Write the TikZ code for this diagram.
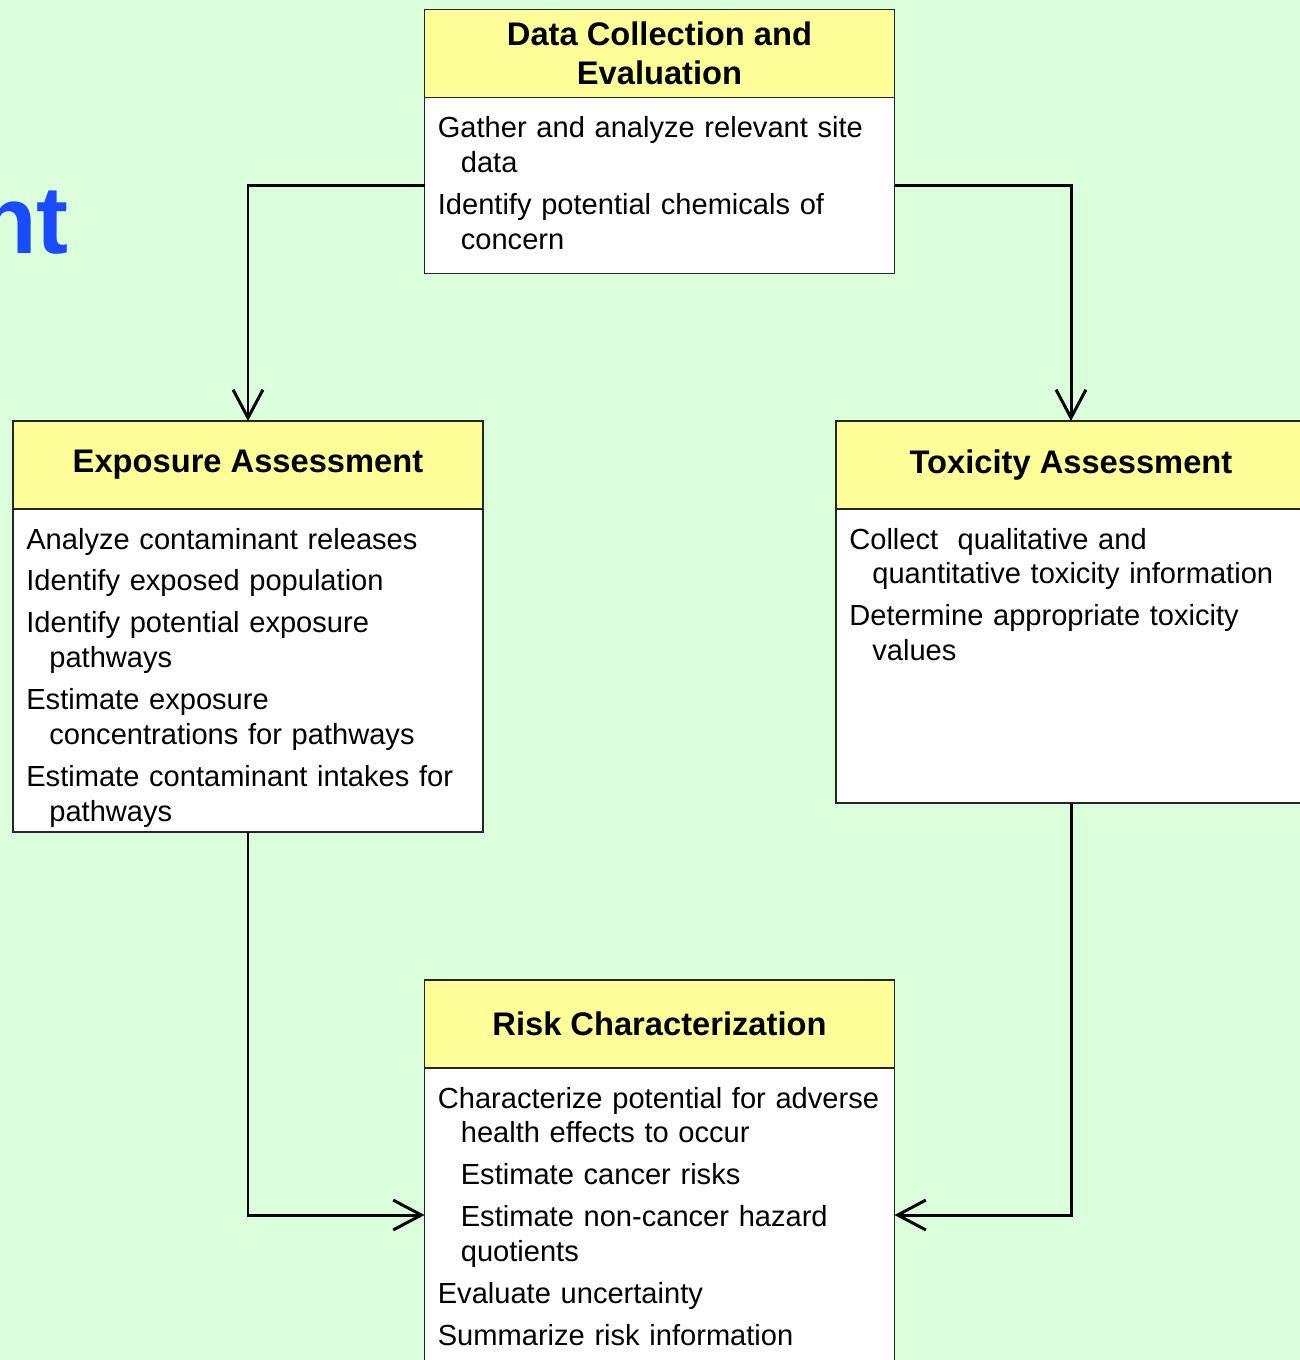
\documentclass[tikz,border=0pt]{standalone}
\usepackage{fontspec}
\setmainfont{Liberation Sans}
\usetikzlibrary{arrows.meta, positioning}

\definecolor{pagegreen}{HTML}{DBFFDB}
\definecolor{headyellow}{HTML}{FFFF99}
\definecolor{titleblue}{HTML}{1A4BFF}

\newlength{\unitpx}
\setlength{\unitpx}{0.02cm}
\newcommand{\entry}[1]{\hangindent=23\unitpx\hangafter=1 #1\par}
\newcommand{\subentry}[1]{{\leftskip=23\unitpx #1\par}}

\tikzset{
  headbox/.style={draw=black!85, line width=0.9pt, fill=headyellow,
    minimum width=470*\unitpx, minimum height=88*\unitpx, inner sep=0pt,
    outer sep=0pt, align=center, font=\fontsize{18.6}{22.2}\selectfont\bfseries},
  bodybox/.style={draw=black!85, line width=0.9pt, fill=white,
    minimum width=470*\unitpx, inner sep=0pt, outer sep=0pt, below=0pt of #1},
  bodytext/.style={anchor=base west, inner sep=0pt, text width=560*\unitpx,
    align=left, font=\fontsize{16.55}{19.9}\selectfont,
    execute at begin node={\setlength{\parskip}{7\unitpx}\setlength{\parindent}{0pt}}},
  link/.style={line width=1.7pt, -{Straight Barb[length=16pt, width=17pt]}}
}

\begin{document}
\begin{tikzpicture}[x=0.02cm, y=-0.02cm]
\useasboundingbox (0,0) rectangle (1300,1360);
\clip (0,0) rectangle (1300,1360);
\fill[pagegreen] (0,0) rectangle (1300,1360);

% title, cut at the page edge
\node[anchor=base east, inner sep=0pt, text=titleblue,
  font=\fontsize{54.6}{60}\selectfont\bfseries] (ttl) at (69,253) {nt};

% data collection
\node[headbox] (dataH) at (659.5,53.5) {Data Collection and\\Evaluation};
\node[bodybox=dataH, minimum height=176*\unitpx] (dataB) {};
\node[bodytext] (dataT) at ([xshift=13*\unitpx, yshift=-40*\unitpx]dataB.north west) {
  \entry{Gather and analyze relevant site\newline data}
  \entry{Identify potential chemicals of\newline concern}};

% exposure
\node[headbox] (expH) at (248,465) {Exposure Assessment};
\node[bodybox=expH, minimum height=323*\unitpx] (expB) {};
\node[bodytext] (expT) at ([xshift=13*\unitpx, yshift=-40*\unitpx]expB.north west) {
  \entry{Analyze contaminant releases}
  \entry{Identify exposed population}
  \entry{Identify potential exposure\newline pathways}
  \entry{Estimate exposure\newline concentrations for pathways}
  \entry{Estimate contaminant intakes for\newline pathways}};

% toxicity
\node[headbox] (toxH) at (1071,465) {Toxicity Assessment};
\node[bodybox=toxH, minimum height=294*\unitpx] (toxB) {};
\node[bodytext] (toxT) at ([xshift=13*\unitpx, yshift=-40*\unitpx]toxB.north west) {
  \entry{Collect\ \ qualitative and\newline quantitative toxicity information}
  \entry{Determine appropriate toxicity\newline values}};

% risk
\node[headbox] (riskH) at (659.5,1024) {Risk Characterization};
\node[bodybox=riskH, minimum height=294*\unitpx] (riskB) {};
\node[bodytext] (riskT) at ([xshift=13*\unitpx, yshift=-40*\unitpx]riskB.north west) {
  \entry{Characterize potential for adverse\newline health effects to occur}
  \subentry{Estimate cancer risks}
  \subentry{Estimate non-cancer hazard\newline quotients}
  \entry{Evaluate uncertainty}
  \entry{Summarize risk information}};

% links
\draw[link] (dataB.west) -| (expH.north);
\draw[link] (dataB.east) -| (toxH.north);
\draw[link] (expB.south) |- (riskB.west);
\draw[link] (toxB.south) |- (riskB.east);
\end{tikzpicture}
\end{document}
